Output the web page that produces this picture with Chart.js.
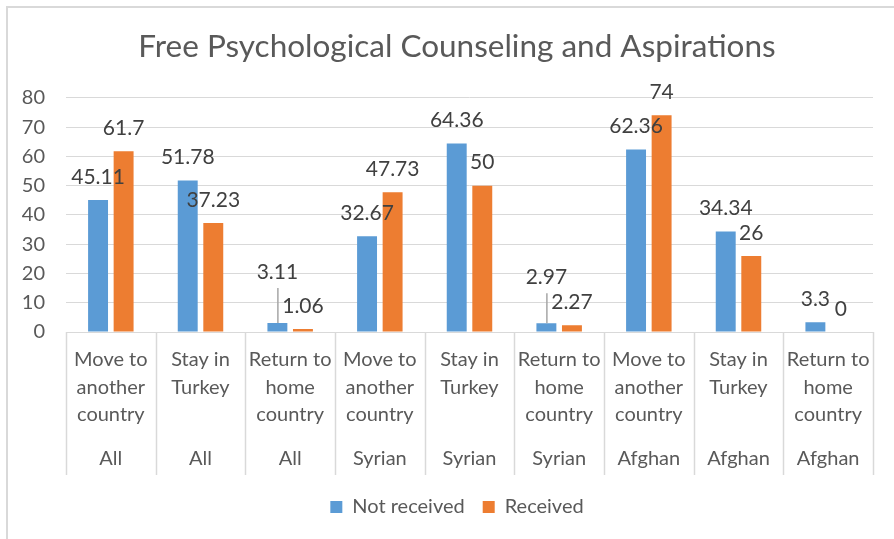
<!DOCTYPE html>
<html>
<head>
<meta charset="utf-8">
<script src="https://cdn.jsdelivr.net/npm/chart.js@4/dist/chart.umd.min.js"></script>
<style>
  html, body { margin: 0; padding: 0; background: #fff; }
  #wrap { width: 894px; height: 539px; }
</style>
</head>
<body>
<div id="wrap"><canvas id="canvas" width="894" height="539"></canvas></div>
<script>
var choices = [
  ['Move to', 'another', 'country'], ['Stay in', 'Turkey'], ['Return to', 'home', 'country'],
  ['Move to', 'another', 'country'], ['Stay in', 'Turkey'], ['Return to', 'home', 'country'],
  ['Move to', 'another', 'country'], ['Stay in', 'Turkey'], ['Return to', 'home', 'country']
];
var groups = ['All', 'All', 'All', 'Syrian', 'Syrian', 'Syrian', 'Afghan', 'Afghan', 'Afghan'];
var notReceived = [45.11, 51.78, 3.11, 32.67, 64.36, 2.97, 62.36, 34.34, 3.3];
var received = [61.7, 37.23, 1.06, 47.73, 50, 2.27, 74, 26, 0];
var yTicks = [0, 10, 20, 30, 40, 50, 60, 70, 80];

var FONT = 'Lato';
var GREY = '#595959';
var LINE = '#d9d9d9';

// labels pushed up above tiny bars, joined back with a leader line
var lifted = { '0-2': 28, '0-5': 23 };

var frame = {
  id: 'frame',
  beforeDraw: function (chart) {
    var c = chart.ctx;
    c.save();
    c.fillStyle = '#fff';
    c.fillRect(0, 0, chart.width, chart.height);
    c.strokeStyle = LINE;
    c.lineWidth = 2;
    c.strokeRect(7, 7, chart.width + 20, chart.height + 20);
    c.restore();
  }
};

// vertical dividers running through both rows of category labels
var dividers = {
  id: 'dividers',
  afterDraw: function (chart) {
    var x = chart.scales.x, x2 = chart.scales.x2;
    var n = x.getLabels().length;
    var w = (x.right - x.left) / n;
    var c = chart.ctx;
    c.save();
    c.strokeStyle = LINE;
    c.lineWidth = 1.5;
    for (var i = 0; i <= n; i++) {
      var px = Math.round(x.left + i * w) + 0.5;
      c.beginPath();
      c.moveTo(px, chart.chartArea.bottom);
      c.lineTo(px, x2.bottom - 4);
      c.stroke();
    }
    c.restore();
  }
};

var valueLabels = {
  id: 'valueLabels',
  afterDatasetsDraw: function (chart) {
    var c = chart.ctx;
    c.save();
    c.font = '21px ' + FONT;
    c.fillStyle = '#404040';
    c.textAlign = 'center';
    c.textBaseline = 'middle';
    chart.data.datasets.forEach(function (ds, di) {
      chart.getDatasetMeta(di).data.forEach(function (bar, i) {
        var extra = lifted[di + '-' + i] || 0;
        var ty = bar.y - 23 - extra;
        if (extra) {
          c.strokeStyle = '#a6a6a6';
          c.lineWidth = 1.5;
          c.beginPath();
          c.moveTo(bar.x + 0.5, bar.y);
          c.lineTo(bar.x + 0.5, ty + 16);
          c.stroke();
        }
        c.fillText(String(ds.data[i]), bar.x, ty);
      });
    });
    c.restore();
  }
};

var ctx = document.getElementById('canvas').getContext('2d');

new Chart(ctx, {
  type: 'bar',
  data: {
    labels: choices,
    datasets: [{
      label: 'Not received',
      data: notReceived,
      backgroundColor: '#5b9bd5',
      categoryPercentage: 0.57,
      barPercentage: 0.78
    }, {
      label: 'Received',
      data: received,
      backgroundColor: '#ed7d31',
      categoryPercentage: 0.57,
      barPercentage: 0.78
    }]
  },
  options: {
    responsive: false,
    animation: false,
    layout: { padding: { left: 20, right: 0, top: 0, bottom: 12 } },
    plugins: {
      title: {
        display: true,
        text: 'Free Psychological Counseling and Aspirations',
        color: GREY,
        font: { family: FONT, size: 31.5, weight: 'normal', lineHeight: 1.2 },
        padding: { top: 28, bottom: 32 }
      },
      legend: {
        position: 'bottom',
        labels: {
          color: GREY,
          font: { family: FONT, size: 20 },
          boxWidth: 12,
          boxHeight: 12,
          padding: 18
        }
      },
      tooltip: { enabled: false }
    },
    scales: {
      x: {
        weight: 0,
        grid: { display: false, drawTicks: false },
        border: { display: true, color: LINE, width: 1 },
        ticks: {
          color: GREY,
          font: { family: FONT, size: 20, lineHeight: 1.375 },
          padding: 14,
          maxRotation: 0,
          autoSkip: false
        },
        afterFit: function (s) { s.height = 108; }
      },
      x2: {
        type: 'category',
        labels: groups,
        position: 'bottom',
        offset: true,
        weight: 1,
        grid: { display: false, drawTicks: false },
        border: { display: false },
        ticks: {
          color: GREY,
          font: { family: FONT, size: 20, lineHeight: 1.375 },
          padding: 5,
          maxRotation: 0,
          autoSkip: false
        },
        afterFit: function (s) { s.height = 39; }
      },
      y: {
        min: 0,
        max: 80,
        afterBuildTicks: function (s) {
          s.ticks = yTicks.map(function (v) { return { value: v }; });
        },
        grid: { color: LINE, lineWidth: 1, drawTicks: false },
        border: { display: false },
        ticks: {
          color: GREY,
          font: { family: FONT, size: 20 },
          padding: 21
        },
        afterFit: function (s) { s.width = 46; }
      },
      // empty margin on the right of the plot
      yRight: {
        position: 'right',
        min: 0,
        max: 80,
        grid: { display: false, drawTicks: false },
        border: { display: false },
        ticks: { display: false },
        afterFit: function (s) { s.width = 21; }
      }
    }
  },
  plugins: [frame, dividers, valueLabels]
});
</script>
</body>
</html>
